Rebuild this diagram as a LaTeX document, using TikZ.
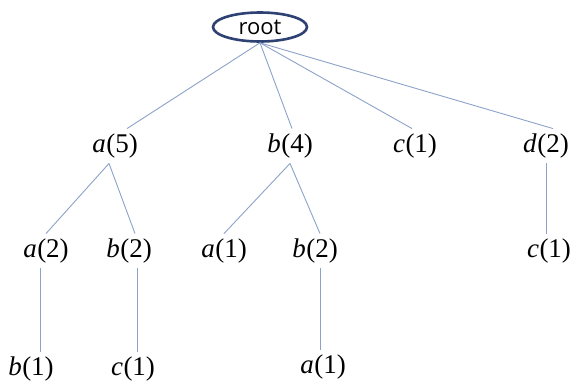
\documentclass[tikz,border=0pt]{standalone}
\usepackage{fontspec}
\setmainfont{Liberation Serif}
\newfontfamily\rootfont{Open Sans}
\newfontfamily\labelfont{Liberation Serif}
\usepackage{tikz}
\usetikzlibrary{shapes.geometric, calc}

\definecolor{rootline}{RGB}{45,65,115}
\definecolor{edgeline}{RGB}{140,162,200}

\newcommand{\cnt}[2]{\textit{#1}\kern0.5pt(#2)}

\begin{document}
\begin{tikzpicture}[
    x=1pt, y=-1pt,
    rootnode/.style={draw=rootline, ellipse, line width=2.6pt, minimum width=94pt, minimum height=29pt, inner sep=0pt, font=\rootfont\fontsize{22}{24}\selectfont},
    item/.style={inner xsep=2pt, inner ysep=5pt, font=\labelfont\fontsize{27}{30}\selectfont},
    edge/.style={draw=edgeline, line width=0.9pt},
  ]
  \useasboundingbox (0,0) rectangle (579,386);

  % ---- root ----
  \node[rootnode] (root) at (260,27) {root};

  % ---- Level 1 ----
  \node[item] (a5) at (115,146) {\cnt{a}{5}};
  \node[item] (b4) at (290,146) {\cnt{b}{4}};
  \node[item] (c1) at (415,146) {\cnt{c}{1}};
  \node[item] (d2) at (546,146) {\cnt{d}{2}};

  % ---- Level 2 ----
  \node[item] (a2) at (46,251) {\cnt{a}{2}};
  \node[item] (b2) at (129,251) {\cnt{b}{2}};
  \node[item] (a1) at (224,251) {\cnt{a}{1}};
  \node[item] (bb2) at (315,251) {\cnt{b}{2}};
  \node[item] (dc1) at (549,251) {\cnt{c}{1}};

  % ---- Level 3 ----
  \node[item] (b1) at (31,369) {\cnt{b}{1}};
  \node[item] (c1b) at (133,369) {\cnt{c}{1}};
  \node[item] (a1b) at (323,367) {\cnt{a}{1}};

  % ---- Edges ----
  \foreach \child/\dx in {a5/12, b4/2, c1/-3, d2/7}
    \draw[edge] (root.south) -- ([xshift=\dx]\child.north);

  \draw[edge] ([xshift=-6]a5.south) -- (a2.north);
  \draw[edge] ([xshift=-6]a5.south) -- ([xshift=6]b2.north);
  \draw[edge] (b4.south) -- (a1.north);
  \draw[edge] (b4.south) -- ([xshift=5]bb2.north);

  % ---- vertical links ----
  \draw[edge] ([xshift=-6]a2.south) -- ([xshift=-6]a2.south |- b1.north);
  \draw[edge] ([xshift=8]b2.south) -- ([xshift=8]b2.south |- c1b.north);
  \draw[edge] ([xshift=5]bb2.south) -- ([xshift=5]bb2.south |- a1b.north);
  \draw[edge] (d2.south) -- (d2.south |- dc1.north);

\end{tikzpicture}
\end{document}
